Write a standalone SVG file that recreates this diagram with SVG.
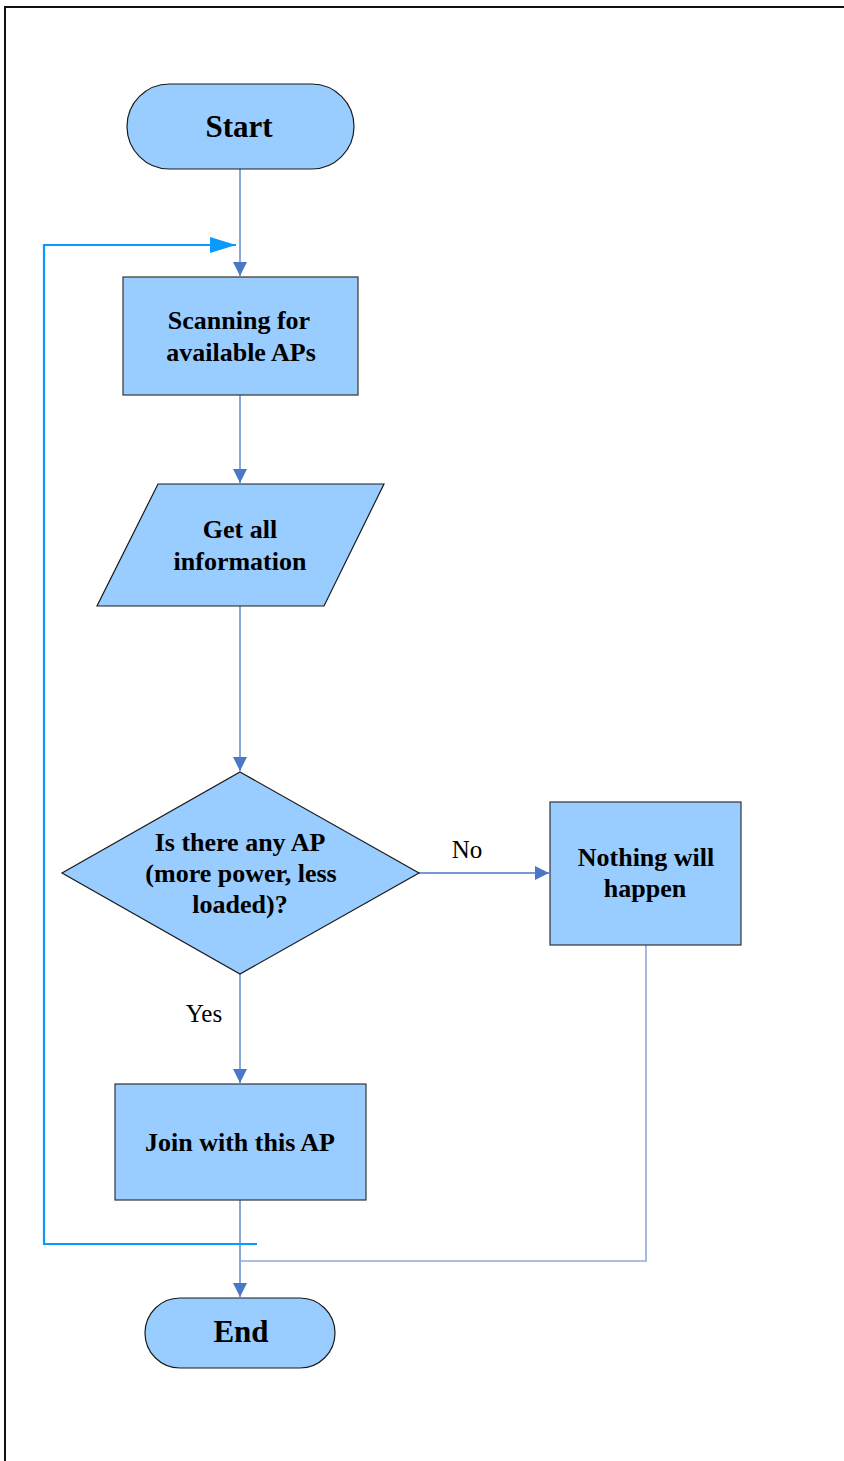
<svg xmlns="http://www.w3.org/2000/svg" width="844" height="1461" viewBox="0 0 844 1461">
  <defs>
    <style>
      .shape { fill: #99ccff; stroke: #1a1a1a; stroke-width: 1.2; }
      .box { fill: #99ccff; stroke: #333; stroke-width: 1.2; }
      .label { font-family: 'Liberation Serif', 'Times New Roman', serif; font-weight: bold; font-size: 26px; fill: #000; text-anchor: middle; }
      .term { font-size: 31px; }
      .edge-label { font-family: 'Liberation Serif', 'Times New Roman', serif; font-size: 25px; fill: #000; text-anchor: middle; }
      .flow { fill: none; stroke: #4a78c8; stroke-width: 1.3; }
      .flow-light { fill: none; stroke: #8eaadb; stroke-width: 1.6; }
      .loop { fill: none; stroke: #0a99ff; stroke-width: 2.2; }
    </style>
    <marker id="arrow" viewBox="0 0 10 10" refX="10" refY="5" markerWidth="14" markerHeight="14" markerUnits="userSpaceOnUse" orient="auto">
      <path d="M0,0 L10,5 L0,10 Z" fill="#4a78c8"/>
    </marker>
    <marker id="arrow-loop" viewBox="0 0 10 10" refX="10" refY="5" markerWidth="26" markerHeight="16" markerUnits="userSpaceOnUse" orient="auto" preserveAspectRatio="none">
      <path d="M0,0 L10,5 L0,10 Z" fill="#0a99ff"/>
    </marker>
  </defs>

  <!-- page frame -->
  <path d="M5,1461 L5,7 L844,7" fill="none" stroke="#111" stroke-width="2"/>

  <!-- connectors -->
  <g id="connectors">
    <line class="flow" x1="240" y1="169" x2="240" y2="276" marker-end="url(#arrow)"/>
    <line class="flow" x1="240" y1="395" x2="240" y2="483" marker-end="url(#arrow)"/>
    <line class="flow" x1="240" y1="606" x2="240" y2="771" marker-end="url(#arrow)"/>
    <line class="flow" x1="419" y1="873" x2="549" y2="873" marker-end="url(#arrow)"/>
    <line class="flow" x1="240" y1="974" x2="240" y2="1083" marker-end="url(#arrow)"/>
    <line class="flow" x1="240" y1="1200" x2="240" y2="1297" marker-end="url(#arrow)"/>
    <polyline class="flow-light" points="646,945 646,1261 240,1261"/>
    <polyline class="loop" points="257,1244 44,1244 44,245 236,245" marker-end="url(#arrow-loop)"/>
    <text class="edge-label" x="467" y="858">No</text>
    <text class="edge-label" x="204" y="1022">Yes</text>
  </g>

  <g id="start">
    <rect class="shape" x="127" y="84" width="227" height="85" rx="42.5" ry="42.5"/>
    <text class="label term" x="239" y="137">Start</text>
  </g>

  <g id="scan">
    <rect class="box" x="123" y="277" width="235" height="118"/>
    <text class="label" x="239" y="329">Scanning for</text>
    <text class="label" x="241" y="361">available APs</text>
  </g>

  <g id="info">
    <polygon class="shape" points="158,484 384,484 324,606 97,606"/>
    <text class="label" x="240" y="538">Get all</text>
    <text class="label" x="240" y="570">information</text>
  </g>

  <g id="decision">
    <polygon class="shape" points="240,772 419,873 240,974 62,873"/>
    <text class="label" x="240" y="851">Is there any AP</text>
    <text class="label" x="241" y="882">(more power, less</text>
    <text class="label" x="240" y="913">loaded)?</text>
  </g>

  <g id="nothing">
    <rect class="box" x="550" y="802" width="191" height="143"/>
    <text class="label" x="646" y="866">Nothing will</text>
    <text class="label" x="645" y="897">happen</text>
  </g>

  <g id="join">
    <rect class="box" x="115" y="1084" width="251" height="116"/>
    <text class="label" x="240" y="1151">Join with this AP</text>
  </g>

  <g id="end">
    <rect class="shape" x="145" y="1298" width="190" height="70" rx="35" ry="35"/>
    <text class="label term" x="241" y="1342">End</text>
  </g>
</svg>
